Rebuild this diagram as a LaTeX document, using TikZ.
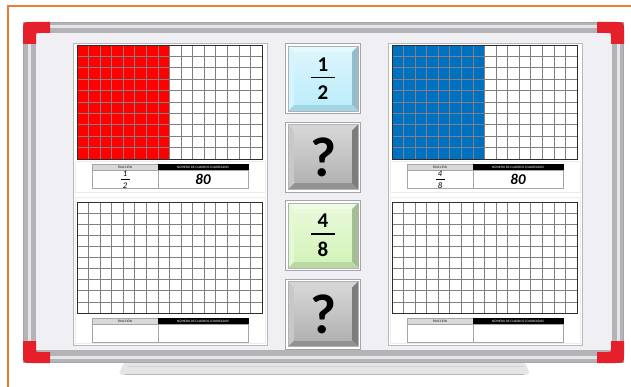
\documentclass[tikz,border=0pt]{standalone}
\usepackage{fontspec}
\setsansfont{Carlito}
\usetikzlibrary{positioning}
\definecolor{naranja}{HTML}{ED7D31}
\definecolor{rojo}{HTML}{FF0000}
\definecolor{azul}{HTML}{0070C0}
\definecolor{esquina}{HTML}{E5202A}
\definecolor{pizarra}{HTML}{EFEFF4}
\definecolor{aluminio}{HTML}{B4B4B8}
% button colours: face, top, left, right, bottom
\definecolor{celesteC}{HTML}{BDEDFA}
\definecolor{celesteA}{HTML}{E4FAFF}
\definecolor{celesteI}{HTML}{D4F5FD}
\definecolor{celesteD}{HTML}{93BDCA}
\definecolor{celesteB}{HTML}{A2D6E6}
\definecolor{grisC}{HTML}{B2B2B2}
\definecolor{grisA}{HTML}{D4D4D4}
\definecolor{grisI}{HTML}{C8C8C8}
\definecolor{grisD}{HTML}{7C7C7C}
\definecolor{grisB}{HTML}{929292}
\definecolor{verdeC}{HTML}{D4F4BA}
\definecolor{verdeA}{HTML}{EDFCE2}
\definecolor{verdeI}{HTML}{E2F9D1}
\definecolor{verdeD}{HTML}{A5BD93}
\definecolor{verdeB}{HTML}{BAD8A4}
\tikzset{
  boton/.style n args={5}{
    draw=gray!70, fill=white, inner sep=0pt, outer sep=0pt,
    minimum width=75pt, minimum height=70pt, align=center,
    font=\sffamily\bfseries\fontsize{21}{13}\selectfont,
    path picture={
      \coordinate (p1) at ([shift={(2.5pt,-2.5pt)}]path picture bounding box.north west);
      \coordinate (p2) at ([shift={(-2.5pt,2.5pt)}]path picture bounding box.south east);
      \coordinate (q1) at ([shift={(9pt,-9pt)}]path picture bounding box.north west);
      \coordinate (q2) at ([shift={(-9pt,9pt)}]path picture bounding box.south east);
      \fill[#2] (p1) -- (p1-|p2) -- (q1-|q2) -- (q1) -- cycle;
      \fill[#3] (p1) -- (q1) -- (q1|-q2) -- (p1|-p2) -- cycle;
      \fill[#4] (p1-|p2) -- (p2) -- (q2) -- (q1-|q2) -- cycle;
      \fill[#5] (p1|-p2) -- (p2) -- (q2) -- (q1|-q2) -- cycle;
      \shade[top color=#1!55!white, bottom color=#1] (q1) rectangle (q2);
      \draw[gray!60, line width=0.4pt] (p1) rectangle (p2);
    }
  },
  pregunta/.style={font=\sffamily\bfseries\fontsize{56}{56}\selectfont},
  cabfrac/.style={
    draw=gray!70, fill=gray!30, text=gray!20!black, inner sep=0pt, outer sep=0pt,
    minimum width=66pt, minimum height=6.5pt, font=\sffamily\fontsize{3.4}{3.4}\selectfont
  },
  cabnum/.style={
    draw=black, fill=black, text=white, inner sep=0pt, outer sep=0pt,
    minimum width=90pt, minimum height=6.5pt, font=\sffamily\fontsize{3.4}{3.4}\selectfont
  },
  celdafrac/.style={
    draw=gray!70, fill=white, inner sep=0pt, outer sep=0pt, align=center,
    minimum width=66pt, minimum height=18pt, font=\sffamily\itshape\fontsize{8.5}{6}\selectfont
  },
  celdanum/.style={
    draw=gray!70, fill=white, inner sep=0pt, outer sep=0pt,
    minimum width=90pt, minimum height=18pt, font=\sffamily\bfseries\itshape\fontsize{15}{15}\selectfont
  },
  panel/.style={draw=gray!55, fill=white, line width=0.7pt},
  rejilla/.style={draw=gray, line width=0.7pt},
}
\begin{document}
\begin{tikzpicture}[x=1pt, y=-1pt]
  \useasboundingbox (0,0) rectangle (631,387);
  \fill[white] (0,0) rectangle (631,387);
  \draw[naranja, line width=1.6pt] (8,387) -- (8,6) -- (631,6);

  % tray
  \fill[gray!20] (135,362) -- (513,362) .. controls (525,362) .. (528,369)
    .. controls (530,375) .. (519,375) -- (130,375) .. controls (118,375) .. (121,369)
    .. controls (124,362) .. (135,362);
  \draw[gray!55, line width=1pt] (125,374) -- (524,374);
  \draw[gray!35, line width=0.8pt] (128,366) -- (524,366);

  % board and frame
  \fill[aluminio] (23,22) rectangle (624,363);
  \draw[gray!20, line width=3pt] (29,27) rectangle (618,357);
  \draw[gray!70, line width=0.6pt] (23.5,22.5) rectangle (623.5,362.5);
  \fill[pizarra] (35,32) rectangle (612,350);
  \draw[gray!60, line width=0.8pt] (35,32) rectangle (612,350);

  \foreach \sx/\sy/\dx/\dy in {1/1/0/0, -1/1/647/0, 1/-1/0/385, -1/-1/647/385}{
    \begin{scope}[shift={(\dx,\dy)}, xscale=\sx, yscale=\sy]
      \fill[esquina] (23,44) -- (23,31) .. controls (23,22) .. (32,22) -- (50,22)
        -- (50,33) -- (40,33) .. controls (36,33) .. (36,37) -- (36,44) -- cycle;
    \end{scope}
  }

  % panels
  \draw[panel] (73,43) rectangle (267,345);
  \draw[panel] (388,43) rectangle (582,345);
  \foreach \px in {75,390}{
    \draw[gray!15] (\px,161) rectangle ++(190,31);
    \draw[gray!15] (\px,197) rectangle ++(190,146);
  }

  % grids
  \foreach \gx/\gy/\gh/\nc/\col in {77/45/114/8/rojo, 77/202/111/0/rojo,
                                    392/45/114/8/azul, 392/202/111/0/azul}{
    \fill[\col] (\gx,\gy) rectangle ++({185*\nc/16},\gh);
    \foreach \i in {1,...,15}
      \draw[rejilla] ({\gx+\i*185/16},\gy) -- ++(0,\gh);
    \foreach \j in {1,...,9}
      \draw[rejilla] (\gx,{\gy+\j*\gh/10}) -- ++(185,0);
    \draw[gray!35!black, line width=0.9pt] (\gx,\gy) rectangle ++(185,\gh);
  }

  % tables
  \node[cabfrac, anchor=north west] (fr1) at (92,164) {FRACCIÓN};
  \node[cabnum, right=0pt of fr1] (nu1) {NÚMERO DE CUADROS COLOREADOS};
  \node[celdafrac, below=0pt of fr1] (vf1) {1\\\rule[2.8pt]{9pt}{0.6pt}\\2};
  \node[celdanum, below=0pt of nu1] (vn1) {80};

  \node[cabfrac, anchor=north west] (fr2) at (92,318) {FRACCIÓN};
  \node[cabnum, right=0pt of fr2] (nu2) {NÚMERO DE CUADROS COLOREADOS};
  \node[celdafrac, below=0pt of fr2] (vf2) {};
  \node[celdanum, below=0pt of nu2] (vn2) {};

  \node[cabfrac, anchor=north west] (fr3) at (407,164) {FRACCIÓN};
  \node[cabnum, right=0pt of fr3] (nu3) {NÚMERO DE CUADROS COLOREADOS};
  \node[celdafrac, below=0pt of fr3] (vf3) {4\\\rule[2.8pt]{9pt}{0.6pt}\\8};
  \node[celdanum, below=0pt of nu3] (vn3) {80};

  \node[cabfrac, anchor=north west] (fr4) at (407,318) {FRACCIÓN};
  \node[cabnum, right=0pt of fr4] (nu4) {NÚMERO DE CUADROS COLOREADOS};
  \node[celdafrac, below=0pt of fr4] (vf4) {};
  \node[celdanum, below=0pt of nu4] (vn4) {};

  % buttons
  \node[boton={celesteC}{celesteA}{celesteI}{celesteD}{celesteB}] (b1) at (323,78.5)
    {1\\\rule[6pt]{24pt}{1.5pt}\\2};
  \node[boton={grisC}{grisA}{grisI}{grisD}{grisB}, pregunta, below=8.5pt of b1] (b2) {?};
  \node[boton={verdeC}{verdeA}{verdeI}{verdeD}{verdeB}, below=8.5pt of b2] (b3)
    {4\\\rule[6pt]{24pt}{1.5pt}\\8};
  \node[boton={grisC}{grisA}{grisI}{grisD}{grisB}, pregunta, below=8.5pt of b3] (b4) {?};
\end{tikzpicture}
\end{document}
